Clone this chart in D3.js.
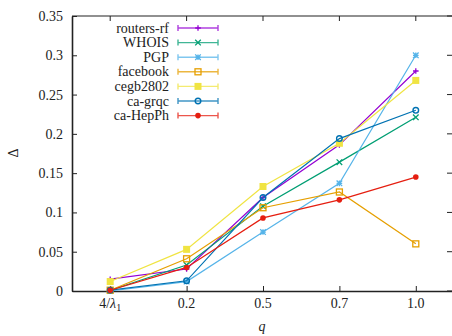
<!DOCTYPE html>
<html><head><meta charset="utf-8">
<script src="https://cdn.jsdelivr.net/npm/d3@7"></script>
<style>body{margin:0;background:#fff}svg{display:block}</style>
</head><body>
<svg id="c" width="452" height="336"></svg>
<script>
const categories = ["4/λ1", "0.2", "0.5", "0.7", "1.0"];
const seriesNames = ["routers-rf", "WHOIS", "PGP", "facebook", "cegb2802", "ca-grqc", "ca-HepPh"];
const routersRf = [0.015, 0.028, 0.119, 0.186, 0.280];
const whois     = [0.001, 0.033, 0.108, 0.164, 0.221];
const pgp       = [0.000, 0.012, 0.075, 0.137, 0.300];
const facebook  = [0.001, 0.041, 0.106, 0.126, 0.060];
const cegb2802  = [0.012, 0.053, 0.133, 0.188, 0.268];
const caGrqc    = [0.001, 0.013, 0.119, 0.194, 0.230];
const caHepPh   = [0.001, 0.030, 0.093, 0.116, 0.145];
const yTicks = [0, 0.05, 0.1, 0.15, 0.2, 0.25, 0.3, 0.35];
const yTickLabels = ["0", "0.05", "0.1", "0.15", "0.2", "0.25", "0.3", "0.35"];

const values = [routersRf, whois, pgp, facebook, cegb2802, caGrqc, caHepPh];
const colors = ["#9400d3", "#009e73", "#56b4e9", "#e69f00", "#f0e442", "#0072b2", "#e51e10"];
const markers = ["plus", "cross", "star", "osquare", "fsquare", "ocircle", "fcircle"];
const FONT = "'Liberation Serif', 'DejaVu Serif', serif";

const svg = d3.select("#c");
const L = 72, R = 454, T = 16, B = 291;
const x = d3.scalePoint().domain(categories).range([L, R]).padding(0.5);
const y = d3.scaleLinear().domain([0, 0.35]).range([B, T]);

// Axes
const yAxis = d3.axisLeft(y).tickValues(yTicks).tickFormat((d,i)=>yTickLabels[i]).tickSizeInner(-5).tickSizeOuter(0).tickPadding(9);
const gy = svg.append("g").attr("transform", `translate(${L},0)`).call(yAxis);
gy.attr("font-family", FONT).attr("font-size", 14);
gy.selectAll("text").attr("fill","#222");
const xAxis = d3.axisBottom(x).tickSizeInner(-5).tickSizeOuter(0).tickFormat(()=> "");
const gx = svg.append("g").attr("transform", `translate(0,${B})`).call(xAxis);
[gx, gy].forEach(g => { g.select(".domain").attr("stroke","#222").attr("stroke-width",1.6); g.selectAll(".tick line").attr("stroke","#222"); });
// Mirror ticks top & right
svg.append("line").attr("x1",L).attr("x2",R).attr("y1",T).attr("y2",T).attr("stroke","#222").attr("stroke-width",1.2);
categories.forEach(c => svg.append("line").attr("x1",x(c)).attr("x2",x(c)).attr("y1",T).attr("y2",T+5).attr("stroke","#222"));
yTicks.forEach(t => svg.append("line").attr("x1",R-2).attr("x2",R-7).attr("y1",y(t)).attr("y2",y(t)).attr("stroke","#222"));

const txt = (sel) => sel.attr("font-family", FONT).attr("font-size", 14).attr("fill", "#222");

// X tick labels
categories.forEach((c,i) => {
  const t = txt(svg.append("text")).attr("x", x(c)).attr("y", 308).attr("text-anchor","middle");
  if (i === 0) {
    t.append("tspan").text("4/");
    t.append("tspan").attr("font-style","italic").text("λ");
    t.append("tspan").attr("dy",3).attr("font-size",10).text("1");
  } else t.text(c);
});
txt(svg.append("text")).attr("x", 262).attr("y", 331).attr("text-anchor","middle").attr("font-style","italic").text("q");
txt(svg.append("text")).attr("transform","translate(18,153) rotate(-90)").attr("text-anchor","middle").text("Δ");

function marker(g, type, cx, cy, col) {
  const s = 2.8;
  if (type === "plus") {
    g.append("path").attr("d",`M${cx-s},${cy}H${cx+s}M${cx},${cy-s}V${cy+s}`).attr("stroke",col).attr("stroke-width",1.3);
  } else if (type === "cross") {
    g.append("path").attr("d",`M${cx-s},${cy-s}L${cx+s},${cy+s}M${cx-s},${cy+s}L${cx+s},${cy-s}`).attr("stroke",col).attr("stroke-width",1.3);
  } else if (type === "star") {
    g.append("path").attr("d",`M${cx-s},${cy}H${cx+s}M${cx},${cy-s}V${cy+s}M${cx-s},${cy-s}L${cx+s},${cy+s}M${cx-s},${cy+s}L${cx+s},${cy-s}`).attr("stroke",col).attr("stroke-width",1.3);
  } else if (type === "osquare") {
    g.append("rect").attr("x",cx-3).attr("y",cy-3).attr("width",6).attr("height",6).attr("fill","none").attr("stroke",col).attr("stroke-width",1.3);
  } else if (type === "fsquare") {
    g.append("rect").attr("x",cx-3.5).attr("y",cy-3.5).attr("width",7).attr("height",7).attr("fill",col);
  } else if (type === "ocircle") {
    g.append("circle").attr("cx",cx).attr("cy",cy).attr("r",2.8).attr("fill","none").attr("stroke",col).attr("stroke-width",1.4);
  } else {
    g.append("circle").attr("cx",cx).attr("cy",cy).attr("r",2.8).attr("fill",col);
  }
}

const line = d3.line().x((d,i)=>x(categories[i])).y(d=>y(d));
values.forEach((vals, k) => {
  const g = svg.append("g");
  g.append("path").datum(vals).attr("d", line).attr("fill","none").attr("stroke",colors[k]).attr("stroke-width",1.2);
  vals.forEach((v,i) => marker(g, markers[k], x(categories[i]), y(v), colors[k]));
});

// Legend
const ly0 = 28, ldy = 14.6;
seriesNames.forEach((n,k) => {
  const yy = ly0 + k*ldy;
  txt(svg.append("text")).attr("x",169).attr("y",yy+4.5).attr("text-anchor","end").text(n);
  const g = svg.append("g").attr("opacity",0.75);
  g.append("path").attr("d",`M178,${yy}H218M178,${yy-3}V${yy+3}M218,${yy-3}V${yy+3}`).attr("stroke",colors[k]).attr("stroke-width",1.4).attr("fill","none");
  marker(svg.append("g"), markers[k], 198, yy, colors[k]);
});
</script>
</body></html>
